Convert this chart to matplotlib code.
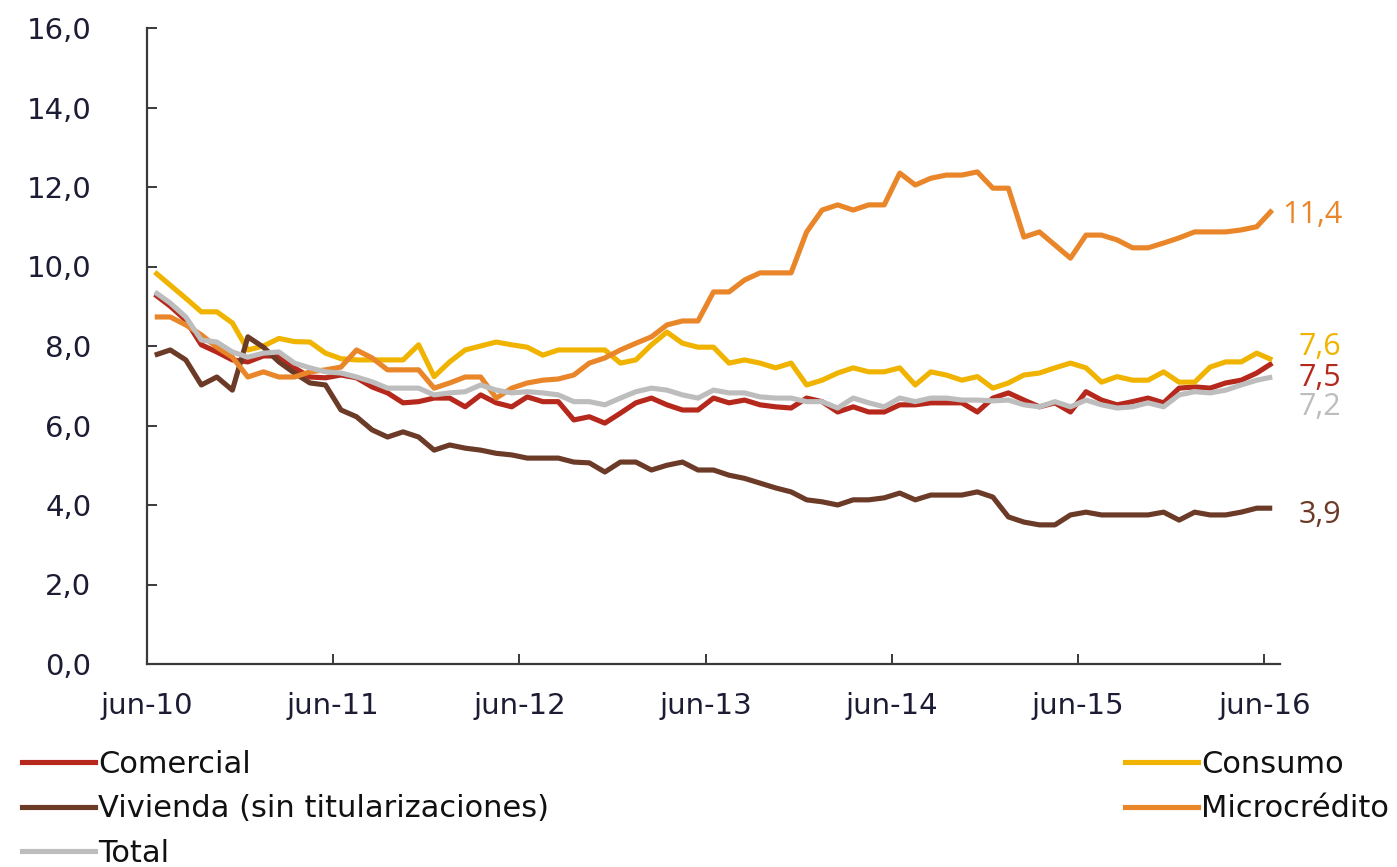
import matplotlib
matplotlib.use("Agg")
import matplotlib.pyplot as plt
from matplotlib.lines import Line2D
import numpy as np

# ---- data (monthly, jun-10 .. jun-16) ----
tick_labels = ["jun-10", "jun-11", "jun-12", "jun-13", "jun-14", "jun-15", "jun-16"]

comercial = [9.30, 9.00, 8.65, 8.03, 7.85, 7.65, 7.60, 7.75, 7.75, 7.45,
             7.22, 7.20, 7.27, 7.20, 6.97, 6.82, 6.57, 6.60, 6.69, 6.69,
             6.47, 6.77, 6.57, 6.47, 6.72, 6.60, 6.60, 6.14, 6.22, 6.06,
             6.31, 6.57, 6.69, 6.52, 6.39, 6.39, 6.69, 6.57, 6.64, 6.52,
             6.47, 6.44, 6.69, 6.60, 6.34, 6.47, 6.34, 6.34, 6.52, 6.52,
             6.57, 6.57, 6.57, 6.34, 6.69, 6.82, 6.64, 6.47, 6.57, 6.34,
             6.85, 6.64, 6.52, 6.60, 6.69, 6.57, 6.94, 6.97, 6.94, 7.07,
             7.14, 7.32, 7.57]

consumo = [9.86, 9.53, 9.20, 8.86, 8.86, 8.58, 7.90, 8.00, 8.19, 8.11,
           8.10, 7.82, 7.68, 7.65, 7.65, 7.65, 7.65, 8.03, 7.23, 7.60,
           7.90, 8.00, 8.10, 8.03, 7.97, 7.77, 7.90, 7.90, 7.90, 7.90,
           7.57, 7.65, 8.03, 8.35, 8.07, 7.97, 7.97, 7.57, 7.65, 7.57,
           7.45, 7.57, 7.02, 7.14, 7.32, 7.45, 7.35, 7.35, 7.45, 7.02,
           7.35, 7.27, 7.14, 7.23, 6.94, 7.07, 7.27, 7.32, 7.45, 7.57,
           7.45, 7.09, 7.23, 7.14, 7.14, 7.35, 7.09, 7.09, 7.47, 7.60,
           7.60, 7.82, 7.65]

vivienda = [7.77, 7.90, 7.65, 7.02, 7.22, 6.89, 8.23, 7.97, 7.60, 7.32,
            7.07, 7.02, 6.39, 6.22, 5.89, 5.71, 5.84, 5.71, 5.38, 5.51,
            5.43, 5.38, 5.30, 5.26, 5.18, 5.18, 5.18, 5.08, 5.06, 4.83,
            5.08, 5.08, 4.88, 5.00, 5.08, 4.88, 4.88, 4.75, 4.67, 4.55,
            4.43, 4.33, 4.13, 4.08, 4.00, 4.13, 4.13, 4.18, 4.30, 4.13,
            4.25, 4.25, 4.25, 4.33, 4.20, 3.70, 3.57, 3.50, 3.50, 3.75,
            3.82, 3.75, 3.75, 3.75, 3.75, 3.82, 3.62, 3.82, 3.75, 3.75,
            3.82, 3.92, 3.92]

microcredito = [8.73, 8.73, 8.53, 8.28, 7.97, 7.72, 7.22, 7.35, 7.22, 7.22,
                7.35, 7.40, 7.47, 7.90, 7.70, 7.40, 7.40, 7.40, 6.94, 7.07,
                7.22, 7.22, 6.69, 6.94, 7.07, 7.14, 7.17, 7.27, 7.57, 7.70,
                7.90, 8.07, 8.23, 8.53, 8.63, 8.63, 9.36, 9.36, 9.66, 9.84,
                9.84, 9.84, 10.87, 11.42, 11.55, 11.42, 11.55, 11.55, 12.35, 12.05,
                12.22, 12.30, 12.30, 12.38, 11.97, 11.97, 10.74, 10.87, 10.54, 10.21,
                10.79, 10.79, 10.67, 10.47, 10.47, 10.59, 10.72, 10.87, 10.87, 10.87,
                10.92, 11.00, 11.42]

total = [9.36, 9.08, 8.73, 8.15, 8.10, 7.85, 7.72, 7.82, 7.85, 7.57,
         7.45, 7.35, 7.32, 7.22, 7.10, 6.94, 6.94, 6.94, 6.77, 6.82,
         6.85, 7.02, 6.89, 6.82, 6.85, 6.82, 6.77, 6.60, 6.60, 6.52,
         6.69, 6.85, 6.94, 6.89, 6.77, 6.69, 6.89, 6.82, 6.82, 6.72,
         6.69, 6.69, 6.60, 6.60, 6.44, 6.69, 6.57, 6.47, 6.69, 6.60,
         6.69, 6.69, 6.64, 6.64, 6.62, 6.64, 6.52, 6.47, 6.60, 6.47,
         6.64, 6.52, 6.44, 6.47, 6.57, 6.47, 6.77, 6.85, 6.82, 6.89,
         7.02, 7.14, 7.22]

end_labels = ["7,5", "7,6", "3,9", "11,4", "7,2"]

# ---- styling ----
C_COM = "#B5281B"
C_CON = "#F0B400"
C_VIV = "#6B3B28"
C_MIC = "#E9862A"
C_TOT = "#BDBDBD"
TXT = "#1C1C34"
LW = 3.7

fig = plt.figure(figsize=(13.97, 8.67), dpi=100)
ax = fig.add_axes([147/1397, 1-664/867, (1280-147)/1397, (664-28)/867])

x = np.arange(len(total))
series = [
    ("Comercial", comercial, C_COM),
    ("Consumo", consumo, C_CON),
    ("Vivienda (sin titularizaciones)", vivienda, C_VIV),
    ("Microcrédito", microcredito, C_MIC),
    ("Total", total, C_TOT),
]
draw_order = [2, 3, 1, 4, 0]
for k in draw_order:
    name, vals, col = series[k]
    ax.plot(x, vals, color=col, lw=LW, solid_joinstyle="round",
            solid_capstyle="butt", zorder=2 + k * 0.1)

ax.set_xlim(-0.5, len(total) - 0.5)
ax.set_ylim(0, 16)
yt = np.arange(0, 16.1, 2)
ax.set_yticks(yt)
ax.set_yticklabels([f"{v:.1f}".replace(".", ",") for v in yt])
ax.set_xticks(np.arange(len(tick_labels)) * 12 - 0.5)
ax.set_xticklabels(tick_labels)

for s in ["top", "right"]:
    ax.spines[s].set_visible(False)
for s in ["left", "bottom"]:
    ax.spines[s].set_color("#3a3a3a")
    ax.spines[s].set_linewidth(1.6)

ax.tick_params(axis="y", direction="in", length=7, width=1.4, color="#3a3a3a",
               pad=40, labelsize=21, labelcolor=TXT)
ax.tick_params(axis="x", direction="in", length=7, width=1.4, color="#3a3a3a",
               pad=20, labelsize=21, labelcolor=TXT)
for lab in ax.get_xticklabels() + ax.get_yticklabels():
    lab.set_fontfamily(["DejaVu Sans"])

# end-of-series value labels: (series index, dx pt, dy pt)
label_specs = [
    (3, 7, -3.5),    # Microcrédito
    (1, 19, 9),      # Consumo
    (0, 19, -10.5),  # Comercial
    (4, 19, -21.5),  # Total
    (2, 19, -5),     # Vivienda
]
for k, dx, dy in label_specs:
    name, vals, col = series[k]
    ax.annotate(end_labels[k], xy=(x[-1], vals[-1]), xytext=(dx, dy),
                textcoords="offset points", color=col, fontsize=22,
                va="center", ha="left", family=["Open Sans", "DejaVu Sans"],
                annotation_clip=False)

# legends
leg_font = {"family": ["DejaVu Sans"], "size": 22}
h_left = [Line2D([], [], color=C_COM, lw=LW), Line2D([], [], color=C_VIV, lw=LW),
          Line2D([], [], color=C_TOT, lw=LW)]
h_right = [Line2D([], [], color=C_CON, lw=LW), Line2D([], [], color=C_MIC, lw=LW)]
leg1 = fig.legend(h_left, ["Comercial", "Vivienda (sin titularizaciones)", "Total"],
                  loc="upper left", bbox_to_anchor=(22/1397, 1-750/867),
                  frameon=False, prop=leg_font, handlelength=2.4, handletextpad=0.1,
                  labelspacing=0.5, borderpad=0, borderaxespad=0)
leg2 = fig.legend(h_right, ["Consumo", "Microcrédito"],
                  loc="upper left", bbox_to_anchor=(1125/1397, 1-750/867),
                  frameon=False, prop=leg_font, handlelength=2.4, handletextpad=0.1,
                  labelspacing=0.5, borderpad=0, borderaxespad=0)
for lg in (leg1, leg2):
    for t in lg.get_texts():
        t.set_color("#111111")

fig.savefig("out.png", dpi=100)
